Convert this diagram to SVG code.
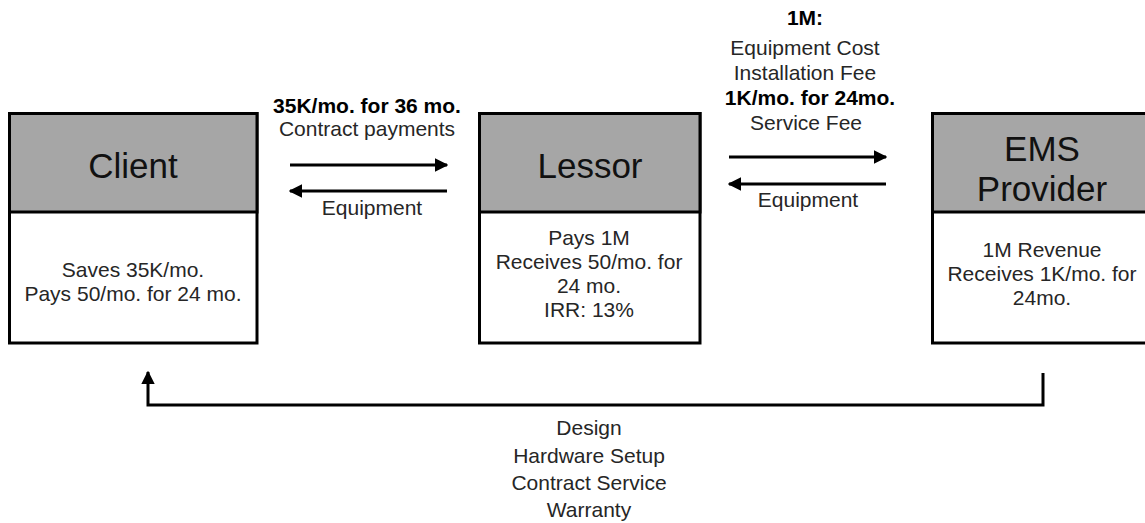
<svg xmlns="http://www.w3.org/2000/svg" width="1145" height="523" viewBox="0 0 1145 523">
  <defs>
    <style>
      .box { fill: #ffffff; stroke: #000000; stroke-width: 3; }
      .head { fill: #a6a6a6; stroke: #000000; stroke-width: 3; }
      .title { font-family: "Liberation Sans", Arial, sans-serif; font-size: 35px; fill: #111111; text-anchor: middle; }
      .body { font-family: "Liberation Sans", Arial, sans-serif; font-size: 21px; fill: #262626; text-anchor: middle; }
      .lbl { font-family: "Liberation Sans", Arial, sans-serif; font-size: 21px; fill: #262626; text-anchor: middle; }
      .bold { font-weight: bold; fill: #000000; }
      .conn { fill: none; stroke: #000000; stroke-width: 3; }
    </style>
    <marker id="arr" viewBox="0 0 10 10" refX="9" refY="5" markerWidth="4.5" markerHeight="4.5" orient="auto" markerUnits="strokeWidth">
      <path d="M0,0 L10,5 L0,10 z" fill="#000000"/>
    </marker>
  </defs>

  <g id="client">
    <rect class="box" x="9.5" y="113.5" width="247.5" height="229.5"/>
    <rect class="head" x="9.5" y="113.5" width="247.5" height="98.5"/>
    <text class="title" x="133" y="177.5">Client</text>
    <text class="body" x="133" y="277">Saves 35K/mo.</text>
    <text class="body" x="133" y="301">Pays 50/mo. for 24 mo.</text>
  </g>

  <g id="lessor">
    <rect class="box" x="479.5" y="113.5" width="220.5" height="229.5"/>
    <rect class="head" x="479.5" y="113.5" width="220.5" height="98.5"/>
    <text class="title" x="590" y="177.5">Lessor</text>
    <text class="body" x="589" y="245">Pays 1M</text>
    <text class="body" x="589" y="269">Receives 50/mo. for</text>
    <text class="body" x="589" y="293">24 mo.</text>
    <text class="body" x="589" y="317">IRR: 13%</text>
  </g>

  <g id="ems">
    <rect class="box" x="932.5" y="113.5" width="220" height="229.5"/>
    <rect class="head" x="932.5" y="113.5" width="220" height="98.5"/>
    <text class="title" x="1042" y="160.5">EMS</text>
    <text class="title" x="1042" y="200.5">Provider</text>
    <text class="body" x="1042" y="256.5">1M Revenue</text>
    <text class="body" x="1042" y="280.5">Receives 1K/mo. for</text>
    <text class="body" x="1042" y="304.5">24mo.</text>
  </g>

  <g id="connectors">
    <line class="conn" x1="290" y1="165" x2="447" y2="165" marker-end="url(#arr)"/>
    <line class="conn" x1="447" y1="191" x2="290" y2="191" marker-end="url(#arr)"/>
    <line class="conn" x1="729" y1="157" x2="886" y2="157" marker-end="url(#arr)"/>
    <line class="conn" x1="886" y1="184" x2="729" y2="184" marker-end="url(#arr)"/>
    <path class="conn" d="M1043 373 V405 H148 V372" marker-end="url(#arr)"/>
  </g>

  <g id="labels">
    <text class="lbl bold" x="367" y="112.5">35K/mo. for 36 mo.</text>
    <text class="lbl" x="367" y="135.5">Contract payments</text>
    <text class="lbl" x="372" y="214.5">Equipment</text>
    <text class="lbl bold" x="805" y="24.5">1M:</text>
    <text class="lbl" x="805" y="54.5">Equipment Cost</text>
    <text class="lbl" x="805" y="79.5">Installation Fee</text>
    <text class="lbl bold" x="810" y="104.5">1K/mo. for 24mo.</text>
    <text class="lbl" x="806" y="129.5">Service Fee</text>
    <text class="lbl" x="808" y="206.5">Equipment</text>
    <text class="lbl" x="589" y="434.5">Design</text>
    <text class="lbl" x="589" y="462.5">Hardware Setup</text>
    <text class="lbl" x="589" y="489.5">Contract Service</text>
    <text class="lbl" x="589" y="516.5">Warranty</text>
  </g>
</svg>
